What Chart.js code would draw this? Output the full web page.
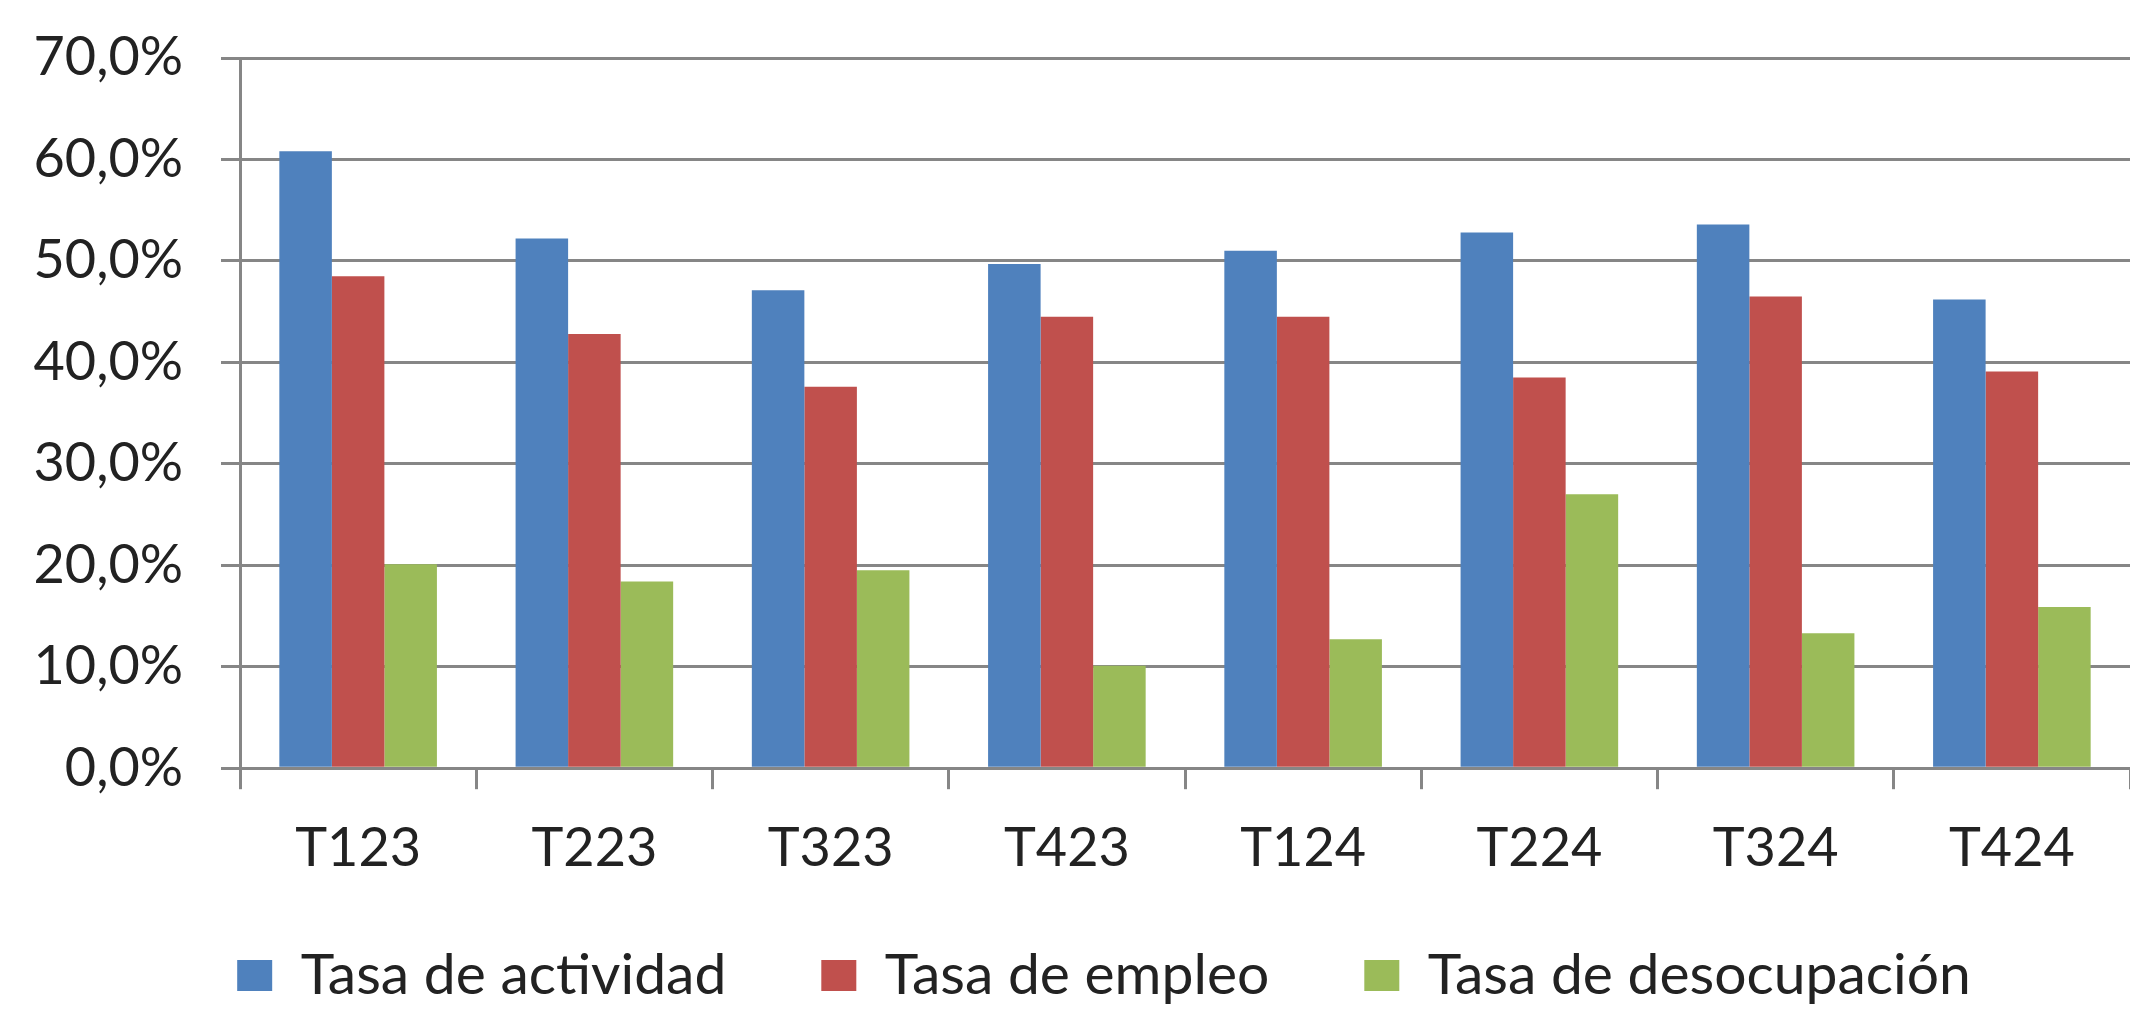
<!DOCTYPE html>
<html>
<head>
<meta charset="utf-8">
<script src="https://cdn.jsdelivr.net/npm/chart.js@4/dist/chart.umd.min.js"></script>
<style>
  html, body { margin: 0; padding: 0; background: #fff; }
  #wrap { width: 2130px; height: 1017px; }
</style>
</head>
<body>
<div id="wrap"><canvas id="tasas"></canvas></div>
<script>
const trimestres = ["T123", "T223", "T323", "T423", "T124", "T224", "T324", "T424"];
const actividad = [60.8, 52.2, 47.1, 49.7, 51.0, 52.8, 53.6, 46.2];
const empleo = [48.5, 42.8, 37.6, 44.5, 44.5, 38.5, 46.5, 39.1];
const desocupacion = [20.1, 18.4, 19.5, 10.1, 12.7, 27.0, 13.3, 15.9];
const yTicks = [0, 10, 20, 30, 40, 50, 60, 70];

const gridColor = "#868686";
const textFont = { family: "Lato", size: 54 };

// moves the legend row to where the reference has it
const legendShift = {
  id: "legendShift",
  afterLayout(chart) {
    const lg = chart.legend;
    lg.left += 39;
    lg.right += 39;
    lg.top = 852;
    lg.bottom = 1017;
  },
};

document.addEventListener("DOMContentLoaded", () => {
  const ctx = document.getElementById("tasas").getContext("2d");

  const data = {
    labels: trimestres,
    datasets: [
      {
        label: "Tasa de actividad",
        data: actividad,
        backgroundColor: "#4f81bd",
      },
      {
        label: "Tasa de empleo",
        data: empleo,
        backgroundColor: "#c0504d",
      },
      {
        label: "Tasa de desocupación",
        data: desocupacion,
        backgroundColor: "#9bbb59",
      },
    ],
  };

  const config = {
    type: "bar",
    data: data,
    plugins: [legendShift],
    options: {
      responsive: true,
      maintainAspectRatio: false,
      animation: false,
      datasets: {
        bar: {
          barPercentage: 1,
          categoryPercentage: 0.667,
        },
      },
      layout: {
        padding: { top: 58, left: 0, right: 0, bottom: 0 },
      },
      plugins: {
        legend: {
          position: "bottom",
          maxHeight: 109,
          labels: {
            color: "#222",
            font: { family: "Lato", size: 57 },
            boxWidth: 35,
            boxHeight: 31,
            padding: 95,
          },
        },
        tooltip: { enabled: false },
      },
      scales: {
        x: {
          grid: {
            display: true,
            drawOnChartArea: false,
            color: gridColor,
            lineWidth: 3,
            tickLength: 21,
          },
          border: { color: gridColor, width: 3 },
          ticks: { color: "#222", font: textFont, padding: 27 },
        },
        y: {
          min: 0,
          max: 70,
          afterBuildTicks: (scale) => {
            scale.ticks = yTicks.map((v) => ({ value: v }));
          },
          afterFit: (scale) => {
            scale.width = 240;
            scale.paddingTop = 0;
            scale.paddingBottom = 0;
          },
          grid: {
            color: gridColor,
            lineWidth: 3,
            tickLength: 19,
          },
          border: { color: gridColor, width: 3 },
          ticks: {
            color: "#222",
            font: textFont,
            padding: 38,
            callback: (v) => v.toFixed(1).replace(".", ",") + "%",
          },
        },
      },
    },
  };

  new Chart(ctx, config);
});
</script>
</body>
</html>
